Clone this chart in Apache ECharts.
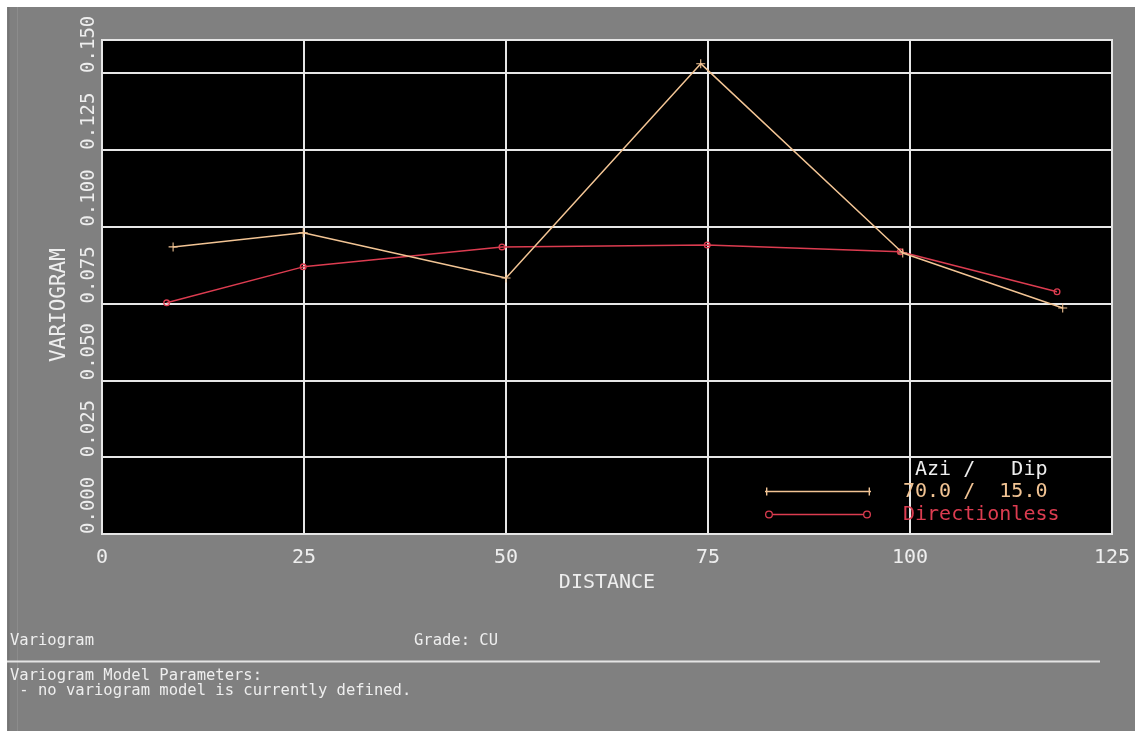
<!DOCTYPE html>
<html>
<head>
<meta charset="utf-8">
<title>Variogram</title>
<script src="https://cdn.jsdelivr.net/npm/echarts@6/dist/echarts.min.js"></script>
<style>
  html, body { margin: 0; padding: 0; background: #ffffff; }
  #chart { width: 1135px; height: 731px; }
</style>
</head>
<body>
<div id="chart"></div>
<script>
// Experimental variogram, directional (azimuth 70 / dip 15) and omnidirectional
const seriesNames = ['70.0 /  15.0', 'Directionless'];
const lagDirectional = [8.8, 24.9, 50.0, 74.1, 99.1, 118.9];
const gammaDirectional = [0.0934, 0.0980, 0.0833, 0.1530, 0.0914, 0.0735];
const lagOmni = [8.0, 24.9, 49.5, 74.9, 98.8, 118.2];
const gammaOmni = [0.0752, 0.0869, 0.0934, 0.0940, 0.0918, 0.0788];

const distanceRange = [0, 125];
const distanceStep = 25;
const gammaRange = [0, 0.1607];
const gammaStep = 0.025;

const legendHeader = ' Azi /   Dip';
const footerTitle = 'Variogram';
const footerGrade = 'Grade: CU';
const footerModel = ['Variogram Model Parameters:', ' - no variogram model is currently defined.'];

const MONO = "'DejaVu Sans Mono', monospace";
const GRID_COLOR = '#e6e6e6';
const TEXT_COLOR = '#eeeeee';
const COLOR_DIR = '#f2c494';
const COLOR_OMNI = '#dc3c50';

// point markers: a plus for the directional curve, a hollow ring for the omnidirectional one
const plusSymbol = 'path://M-0.12,-1 L0.12,-1 L0.12,-0.12 L1,-0.12 L1,0.12 L0.12,0.12 L0.12,1 L-0.12,1 L-0.12,0.12 L-1,0.12 L-1,-0.12 L-0.12,-0.12 Z';
const ringSymbol = 'path://M-1,0 A1,1 0 1,0 1,0 A1,1 0 1,0 -1,0 Z M-0.62,0 A0.62,0.62 0 1,1 0.62,0 A0.62,0.62 0 1,1 -0.62,0 Z';
const legendIconDir = 'path://M0,3.3 L106,3.3 L106,4.7 L0,4.7 Z M1,0 L2.4,0 L2.4,8 L1,8 Z M103.6,0 L105,0 L105,8 L103.6,8 Z';
const legendIconOmni = 'path://M0,4 A4,4 0 1,0 8,4 A4,4 0 1,0 0,4 Z M1.3,4 A2.7,2.7 0 1,1 6.7,4 A2.7,2.7 0 1,1 1.3,4 Z ' +
  'M98,4 A4,4 0 1,0 106,4 A4,4 0 1,0 98,4 Z M99.3,4 A2.7,2.7 0 1,1 104.7,4 A2.7,2.7 0 1,1 99.3,4 Z ' +
  'M8,3.3 L98,3.3 L98,4.7 L8,4.7 Z';

const chart = echarts.init(document.getElementById('chart'), null, { renderer: 'canvas' });

chart.setOption({
  backgroundColor: '#808080',
  animation: false,
  grid: {
    left: 102, top: 40, right: 23, bottom: 197,
    show: true, backgroundColor: '#000000',
    borderColor: GRID_COLOR, borderWidth: 2
  },
  xAxis: {
    type: 'value',
    min: distanceRange[0], max: distanceRange[1], interval: distanceStep,
    name: 'DISTANCE', nameLocation: 'middle', nameGap: 32,
    nameTextStyle: { color: TEXT_COLOR, fontFamily: MONO, fontSize: 20 },
    axisLine: { show: false }, axisTick: { show: false },
    axisLabel: { color: TEXT_COLOR, fontFamily: MONO, fontSize: 20, margin: 14 },
    splitLine: { show: true, lineStyle: { color: GRID_COLOR, width: 2 } }
  },
  yAxis: {
    type: 'value',
    min: gammaRange[0], max: gammaRange[1], interval: gammaStep,
    name: 'VARIOGRAM', nameLocation: 'middle', nameGap: 32, nameRotate: 90,
    nameTextStyle: { color: TEXT_COLOR, fontFamily: MONO, fontSize: 21, padding: [0, 36, 0, 0] },
    axisLine: { show: false }, axisTick: { show: false },
    axisLabel: {
      color: TEXT_COLOR, fontFamily: MONO, fontSize: 19, rotate: 90,
      align: 'left', verticalAlign: 'bottom', margin: 3,
      showMaxLabel: false,
      formatter: v => v.toFixed(3)
    },
    splitLine: { show: true, lineStyle: { color: GRID_COLOR, width: 2 } }
  },
  legend: {
    orient: 'vertical', left: 765, top: 480, padding: 0,
    itemWidth: 106, itemHeight: 8, itemGap: 0,
    selectedMode: false,
    textStyle: { fontFamily: MONO, fontSize: 20, lineHeight: 23, padding: [0, 0, 0, 27] },
    data: [
      { name: seriesNames[0], icon: legendIconDir, itemStyle: { color: COLOR_DIR, borderWidth: 0 }, textStyle: { color: COLOR_DIR } },
      { name: seriesNames[1], icon: legendIconOmni, itemStyle: { color: COLOR_OMNI, borderWidth: 0 }, textStyle: { color: COLOR_OMNI } }
    ]
  },
  graphic: [
    { type: 'rect', silent: true, z: -10, shape: { x: 0, y: 0, width: 1135, height: 7 }, style: { fill: '#ffffff' } },
    { type: 'rect', silent: true, z: -10, shape: { x: 0, y: 0, width: 7, height: 731 }, style: { fill: '#ffffff' } },
    { type: 'line', silent: true, shape: { x1: 8.5, y1: 7, x2: 8.5, y2: 731 }, style: { stroke: '#747474', lineWidth: 2 } },
    { type: 'line', silent: true, shape: { x1: 17.5, y1: 7, x2: 17.5, y2: 731 }, style: { stroke: '#8c8c8c', lineWidth: 1 } },
    { type: 'text', silent: true, x: 903, y: 469.5,
      style: { text: legendHeader, font: '20px ' + MONO, fill: TEXT_COLOR, verticalAlign: 'middle' } },
    { type: 'text', silent: true, x: 10, y: 640.5,
      style: { text: footerTitle, font: '15.5px ' + MONO, fill: TEXT_COLOR, verticalAlign: 'middle' } },
    { type: 'text', silent: true, x: 414, y: 640.5,
      style: { text: footerGrade, font: '15.5px ' + MONO, fill: TEXT_COLOR, verticalAlign: 'middle' } },
    { type: 'line', silent: true, shape: { x1: 7, y1: 661.5, x2: 1100, y2: 661.5 }, style: { stroke: '#e4e4e4', lineWidth: 2 } },
    { type: 'text', silent: true, x: 10, y: 676,
      style: { text: footerModel[0], font: '15.5px ' + MONO, fill: TEXT_COLOR, verticalAlign: 'middle' } },
    { type: 'text', silent: true, x: 10, y: 690.5,
      style: { text: footerModel[1], font: '15.5px ' + MONO, fill: TEXT_COLOR, verticalAlign: 'middle' } }
  ],
  series: [
    {
      name: seriesNames[0], type: 'line',
      data: lagDirectional.map((x, i) => [x, gammaDirectional[i]]),
      symbol: plusSymbol, symbolSize: 9,
      lineStyle: { color: COLOR_DIR, width: 1.5 },
      itemStyle: { color: COLOR_DIR },
      z: 3
    },
    {
      name: seriesNames[1], type: 'line',
      data: lagOmni.map((x, i) => [x, gammaOmni[i]]),
      symbol: ringSymbol, symbolSize: 7,
      lineStyle: { color: COLOR_OMNI, width: 1.5 },
      itemStyle: { color: COLOR_OMNI },
      z: 2
    }
  ]
});
</script>
</body>
</html>
